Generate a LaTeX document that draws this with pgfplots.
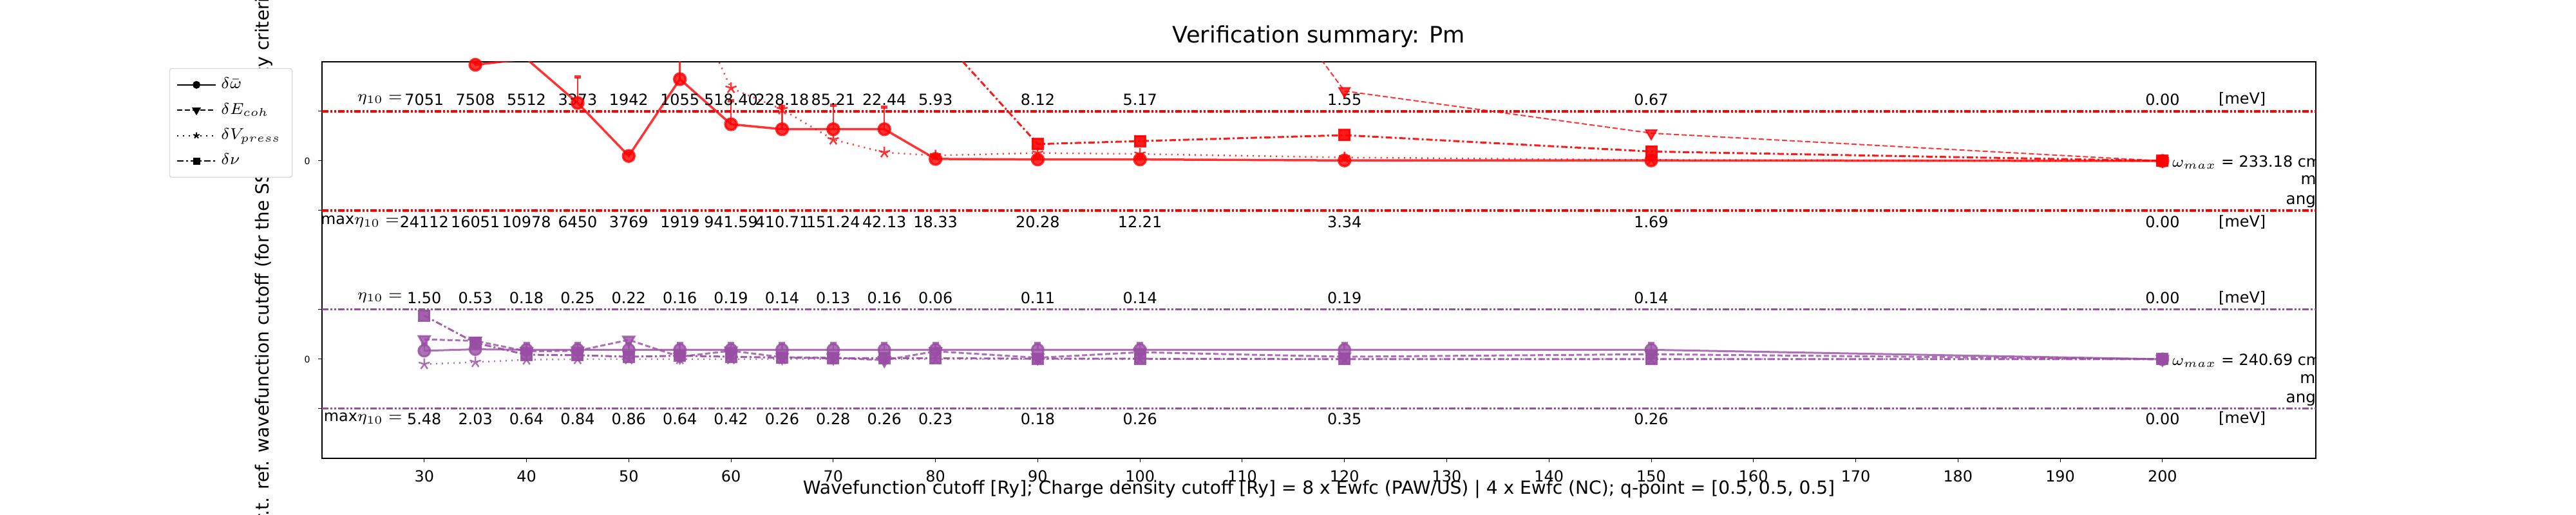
\documentclass[border=0pt]{standalone}
\usepackage{pgfplots}
\pgfplotsset{compat=1.18}
\usepackage{pgfplotstable}
\usepackage{fontspec}
\setmainfont{DejaVu Sans}
\usetikzlibrary{calc}
\definecolor{rd}{RGB}{255,0,0}
\definecolor{pu}{RGB}{152,78,163}
\pgfplotstableread{
x w we e v n
30 8.00 0.05 40 12 10
35 5.94 0.05 40 12 10
40 6.06 0.05 40 12 10
45 5.17 0.52 40 12 10
50 4.10 0.05 40 12 10
55 5.65 1.00 40 7.7 10
60 4.74 0.47 40 5.47 10
65 4.64 0.46 40 5.04 10
70 4.64 0.48 40 4.43 10
75 4.64 0.45 40 4.17 10
80 4.04 0.05 40 4.11 6.61
90 4.03 0.05 20 4.16 4.34
100 4.03 0.04 11 4.14 4.40
120 4.01 0.04 5.41 4.07 4.52
150 4.01 0.03 4.56 4.02 4.19
200 4.00 0.00 4.00 4.00 4.00
}\red
\pgfplotstableread{
x w we e v n
30 0.17 0.13 0.40 -0.10 0.88
35 0.20 0.13 0.37 -0.06 0.33
40 0.19 0.13 0.16 -0.01 0.09
45 0.19 0.13 0.17 0.00 0.08
50 0.19 0.13 0.39 0.00 0.05
55 0.19 0.13 0.05 0.00 0.07
60 0.19 0.13 0.17 0.00 0.05
65 0.19 0.13 0.04 0.00 0.03
70 0.19 0.13 0.03 0.00 0.02
75 0.19 0.13 -0.02 0.00 0.02
80 0.19 0.13 0.16 0.00 0.02
90 0.19 0.13 0.03 0.00 0.01
100 0.19 0.13 0.14 0.00 0.01
120 0.19 0.13 0.05 0.00 0.00
150 0.19 0.13 0.10 0.00 0.00
200 0.00 0.00 0.00 0.00 0.00
}\pur
\newcommand\af{\fontsize{6.8}{8}\selectfont}
\begin{document}
\begin{tikzpicture}
\begin{axis}[
 scale only axis, width=309.6mm, height=61.6mm,
 xmin=20, xmax=215, ymin=-2, ymax=6,
 xtick={30,40,...,200}, ytick={-1,0,1,3,4,5}, yticklabels={,0,,,0,},
 tick align=outside, major tick length=0.6mm,
 tick style={line width=0.1mm,black},
 axis line style={line width=0.12mm},
 /pgf/number format/assume math mode=true,
 xticklabel style={font=\fontsize{6.8}{8}\selectfont},
 yticklabel style={font=\fontsize{4}{5}\selectfont},
 xtick pos=bottom, ytick pos=left,
 xlabel={Wavefunction cutoff [Ry]; Charge density cutoff [Ry] = 8 x Ewfc (PAW/US) | 4 x Ewfc (NC); q-point = [0.5, 0.5, 0.5]},
 xlabel style={font=\fontsize{8}{9}\selectfont, at={(axis description cs:0.5,-0.078)}, anchor=center},
 ylabel={w.r.t. ref. wavefunction cutoff (for the SSSP efficiency criteria)},
 ylabel style={font=\fontsize{8}{9}\selectfont, at={(axis description cs:-0.029,0.5)}, anchor=center},
 title={Verification summary: Pm},
 title style={font=\fontsize{10}{11}\selectfont, at={(axis description cs:0.5,1.03)}, anchor=center},
 legend style={at={(axis description cs:-0.0766,0.984)}, anchor=north west, font=\fontsize{7}{8}\selectfont, draw=black!15, rounded corners=0.3mm, row sep=0.3mm},
 legend cell align=left,
 every axis plot/.append style={line width=0.2mm},
 clip=true,
]
\coordinate (sw) at (rel axis cs:0,0);
\addlegendimage{black, solid, mark=*, mark size=0.5mm}
\addlegendentry{$\delta\bar{\omega}$}
\addlegendimage{black, dash pattern=on 0.8mm off 0.4mm, mark=triangle*, mark options={rotate=180,solid}, mark size=0.6mm}
\addlegendentry{$\delta E_{coh}$}
\addlegendimage{black, dotted, mark=star, mark options={solid}, mark size=0.5mm}
\addlegendentry{$\delta V_{press}$}
\addlegendimage{black, dash pattern=on 1mm off 0.4mm on 0.3mm off 0.4mm, mark=square*, mark options={solid}, mark size=0.45mm}
\addlegendentry{$\delta\nu$}
\pgfplotsinvokeforeach{3,5}{\addplot[forget plot, rd, line width=0.4mm, dash pattern=on 1mm off 0.3mm on 0.3mm off 0.3mm on 0.3mm off 0.3mm] coordinates {(20,#1)(215,#1)};}
\pgfplotsinvokeforeach{-1,1}{\addplot[forget plot, pu, line width=0.3mm, dash pattern=on 1mm off 0.3mm on 0.3mm off 0.3mm on 0.3mm off 0.3mm] coordinates {(20,#1)(215,#1)};}
\addplot[forget plot, rd, opacity=0.8, line width=0.35mm, mark=*, mark size=0.9mm, error bars/.cd, y dir=plus, y explicit, error bar style={line width=0.25mm}, error mark options={rotate=90, mark size=0.5mm, line width=0.5mm}] table[x=x,y=w,y error=we]{\red};
\addplot[forget plot, rd, opacity=0.8, dash pattern=on 0.8mm off 0.4mm, mark=triangle*, mark options={rotate=180,solid}, mark size=1mm] table[x=x,y=e]{\red};
\addplot[forget plot, rd, opacity=0.8, dotted, line width=0.25mm, mark=star, mark options={solid}, mark size=0.9mm] table[x=x,y=v]{\red};
\addplot[forget plot, rd, opacity=0.9, dash pattern=on 1mm off 0.4mm on 0.3mm off 0.4mm, line width=0.3mm, mark=square*, mark options={solid}, mark size=0.8mm] table[x=x,y=n]{\red};
\addplot[forget plot, pu, opacity=0.8, line width=0.3mm, mark=*, mark size=0.9mm, error bars/.cd, y dir=plus, y explicit, error bar style={line width=0.25mm}, error mark options={rotate=90, mark size=0.5mm, line width=0.5mm}] table[x=x,y=w,y error=we]{\pur};
\addplot[forget plot, pu, opacity=0.8, dash pattern=on 0.8mm off 0.4mm, line width=0.3mm, mark=triangle*, mark options={rotate=180,solid}, mark size=1mm] table[x=x,y=e]{\pur};
\addplot[forget plot, pu, opacity=0.8, dotted, line width=0.25mm, mark=star, mark options={solid}, mark size=0.9mm] table[x=x,y=v]{\pur};
\addplot[forget plot, pu, opacity=0.9, dash pattern=on 1mm off 0.4mm on 0.3mm off 0.4mm, line width=0.3mm, mark=square*, mark options={solid}, mark size=0.8mm] table[x=x,y=n]{\pur};
\foreach \xx/\a/\b/\c/\d in {30/7051/24112/1.50/5.48, 35/7508/16051/0.53/2.03, 40/5512/10978/0.18/0.64, 45/3373/6450/0.25/0.84, 50/1942/3769/0.22/0.86, 55/1055/1919/0.16/0.64, 60/518.40/941.59/0.19/0.42, 65/228.18/410.71/0.14/0.26, 70/85.21/151.24/0.13/0.28, 75/22.44/42.13/0.16/0.26, 80/5.93/18.33/0.06/0.23, 90/8.12/20.28/0.11/0.18, 100/5.17/12.21/0.14/0.26, 120/1.55/3.34/0.19/0.35, 150/0.67/1.69/0.14/0.26, 200/0.00/0.00/0.00/0.00}{
 \edef\tmp{\noexpand\node[font=\noexpand\af] at (axis cs:\xx,5.24) {\a};
 \noexpand\node[font=\noexpand\af] at (axis cs:\xx,2.77) {\b};
 \noexpand\node[font=\noexpand\af] at (axis cs:\xx,1.24) {\c};
 \noexpand\node[font=\noexpand\af] at (axis cs:\xx,-1.2) {\d};}\tmp}
\begin{scope}[every node/.style={font=\af}]
\node[anchor=east, inner sep=0pt] at (axis cs:27.9,5.24) {$\eta_{10}=$};
\node[anchor=east, inner sep=0pt] at (axis cs:27.6,2.77) {max$\eta_{10}=$};
\node[anchor=east, inner sep=0pt] at (axis cs:27.9,1.24) {$\eta_{10}=$};
\node[anchor=east, inner sep=0pt] at (axis cs:27.9,-1.2) {max$\eta_{10}=$};
\foreach \yy in {5.24,2.77,1.24,-1.2}{\edef\tmp{\noexpand\node at (axis cs:207.8,\yy) {[meV]};}\tmp}
\node[anchor=west, inner sep=0pt] at (axis cs:200.9,4) {$\omega_{max}$ = 233.18 cm$^{-1}$};
\node[anchor=west, inner sep=0pt] at (axis cs:200.9,0) {$\omega_{max}$ = 240.69 cm$^{-1}$};
\node[align=center, inner sep=0pt, font=\fontsize{7}{8.6}\selectfont] at (axis cs:221.2,4) {PSL-US-v1-high\\Z = 25\\avg.$\nu$ = 0.27\\max.$\nu$ = 1.13 (FCC)\\ang.$\nu$ = 0.29 (w/o XO3)};
\node[align=center, inner sep=0pt, font=\fontsize{7}{8.6}\selectfont] at (axis cs:221.2,0) {JTH-1.1-std\\Z = 15\\avg.$\nu$ = 3.28\\max.$\nu$ = 7.12 (BCC)\\ang.$\nu$ = 3.26 (w/o XO3)};
\end{scope}
\end{axis}
\pgfresetboundingbox
\path ($(sw)+(-50mm,-8.8mm)$) rectangle ++(400mm,80mm);
\end{tikzpicture}
\end{document}
